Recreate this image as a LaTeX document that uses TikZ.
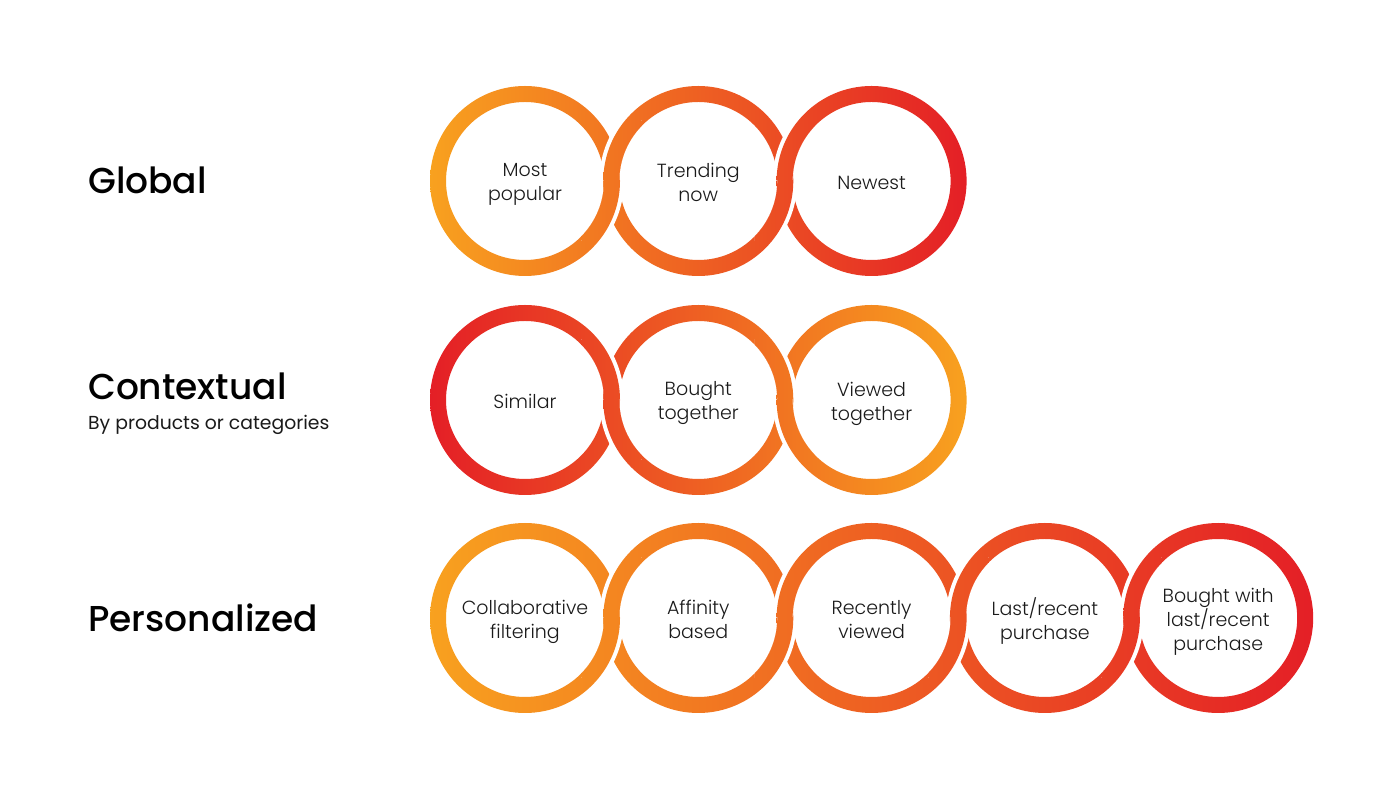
\documentclass[tikz,border=0pt]{standalone}
\usepackage{fontspec}
\setmainfont{Poppins}
\newfontfamily\lightfont{Poppins Light}
\newfontfamily\medfont{Poppins Medium}
\definecolor{cOrange}{HTML}{F8A11F}
\definecolor{cRed}{HTML}{E41F26}
\definecolor{txt}{HTML}{1A1A1A}
\tikzset{
  ringtext/.style={align=center, font=\lightfont\fontsize{19}{24}\selectfont, text=txt, inner sep=0pt,
    execute at begin node=\vphantom{dM}, execute at end node=\vphantom{p}, yshift=-3.5pt},
  rowlabel/.style={anchor=base west, font=\medfont\fontsize{36}{42}\selectfont, text=black, inner sep=0pt},
  sublabel/.style={anchor=base west, font=\fontsize{18.8}{22}\selectfont, text=txt, inner sep=0pt},
  gapfill/.style={fill=white, even odd rule},
}
% #1 cx, #2 cy, #3 x0, #4 x1, #5 left colour, #6 right colour
\newcommand\ringfill[6]{%
  \begin{scope}[even odd rule]
    \clip (#1,#2) circle[radius=95pt] (#1,#2) circle[radius=79pt];
    \shade[left color=#5, right color=#6] (#3,#2-100) rectangle (#4,#2+100);
  \end{scope}}
% #1..#6 as above, #7 mid x, #8 1 = upper half, -1 = lower half
\newcommand\ringpatch[8]{%
  \begin{scope}
    \clip (#7-30,#2) rectangle (#7+30,#2+#8*60);
    \fill[gapfill] (#1,#2) circle[radius=99pt] (#1,#2) circle[radius=79pt];
    \ringfill{#1}{#2}{#3}{#4}{#5}{#6}
  \end{scope}}
\begin{document}
\begin{tikzpicture}[x=1pt,y=1pt]
\useasboundingbox (0,0) rectangle (1400,800);
% ---------- Row 1: Global ----------
\ringfill{525}{619}{430}{967}{cOrange}{cRed}
\ringfill{698.3}{619}{430}{967}{cOrange}{cRed}
\ringfill{871.6}{619}{430}{967}{cOrange}{cRed}
\ringpatch{698.3}{619}{430}{967}{cOrange}{cRed}{611.65}{1}
\ringpatch{525}{619}{430}{967}{cOrange}{cRed}{611.65}{-1}
\ringpatch{871.6}{619}{430}{967}{cOrange}{cRed}{784.95}{1}
\ringpatch{698.3}{619}{430}{967}{cOrange}{cRed}{784.95}{-1}
% ---------- Row 2: Contextual ----------
\ringfill{525}{400}{430}{967}{cRed}{cOrange}
\ringfill{698.3}{400}{430}{967}{cRed}{cOrange}
\ringfill{871.6}{400}{430}{967}{cRed}{cOrange}
\ringpatch{525}{400}{430}{967}{cRed}{cOrange}{611.65}{1}
\ringpatch{698.3}{400}{430}{967}{cRed}{cOrange}{611.65}{-1}
\ringpatch{698.3}{400}{430}{967}{cRed}{cOrange}{784.95}{1}
\ringpatch{871.6}{400}{430}{967}{cRed}{cOrange}{784.95}{-1}
% ---------- Row 3: Personalized ----------
\ringfill{525}{182}{430}{1313.2}{cOrange}{cRed}
\ringfill{698.3}{182}{430}{1313.2}{cOrange}{cRed}
\ringfill{871.6}{182}{430}{1313.2}{cOrange}{cRed}
\ringfill{1044.9}{182}{430}{1313.2}{cOrange}{cRed}
\ringfill{1218.2}{182}{430}{1313.2}{cOrange}{cRed}
\ringpatch{698.3}{182}{430}{1313.2}{cOrange}{cRed}{611.65}{1}
\ringpatch{525}{182}{430}{1313.2}{cOrange}{cRed}{611.65}{-1}
\ringpatch{871.6}{182}{430}{1313.2}{cOrange}{cRed}{784.95}{1}
\ringpatch{698.3}{182}{430}{1313.2}{cOrange}{cRed}{784.95}{-1}
\ringpatch{1044.9}{182}{430}{1313.2}{cOrange}{cRed}{958.25}{1}
\ringpatch{871.6}{182}{430}{1313.2}{cOrange}{cRed}{958.25}{-1}
\ringpatch{1218.2}{182}{430}{1313.2}{cOrange}{cRed}{1131.55}{1}
\ringpatch{1044.9}{182}{430}{1313.2}{cOrange}{cRed}{1131.55}{-1}
% ---------- Row labels ----------
\node[rowlabel] (lglobal) at (88,606.5) {Global};
\node[rowlabel] (lcontext) at (88,400.5) {Contextual};
\node[sublabel] (lcontextsub) at (88,370.5) {By products or categories};
\node[rowlabel] (lperson) at (88,168) {Personalized};
% ---------- Ring texts ----------
\node[ringtext] (t11) at (525,619) {Most\\popular};
\node[ringtext] (t12) at (698.3,619) {Trending\\now};
\node[ringtext] (t13) at (871.6,619) {Newest};
\node[ringtext] (t21) at (525,400) {Similar};
\node[ringtext] (t22) at (698.3,400) {Bought\\together};
\node[ringtext] (t23) at (871.6,400) {Viewed\\together};
\node[ringtext] (t31) at (525,182) {Collaborative\\filtering};
\node[ringtext] (t32) at (698.3,182) {Affinity\\based};
\node[ringtext] (t33) at (871.6,182) {Recently\\viewed};
\node[ringtext] (t34) at (1044.9,182) {Last/recent\\purchase};
\node[ringtext] (t35) at (1218.2,182) {Bought with\\last/recent\\purchase};
\end{tikzpicture}
\end{document}
